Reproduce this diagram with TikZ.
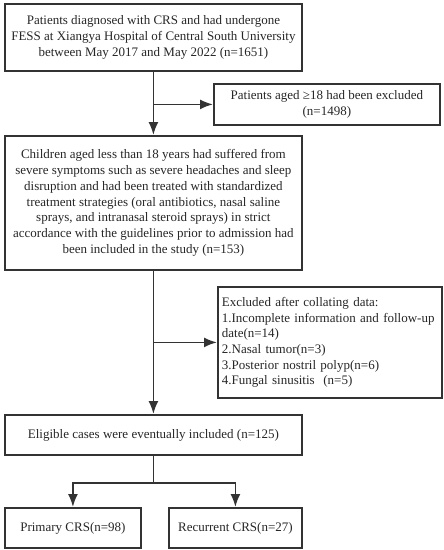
\documentclass[tikz,border=0pt]{standalone}
\usepackage{fontspec}
\setmainfont{Liberation Serif}
\usetikzlibrary{calc,arrows.meta}
\colorlet{frame}{black!80}
\tikzstyle{box}=[draw=frame,line width=1.8pt,anchor=north west,inner sep=0pt,align=center,text=black!85,font=\fontsize{13}{15.7}\selectfont]
\tikzstyle{link}=[-{Latex[length=13pt,width=10pt]},line width=1.8pt,frame]

\begin{document}
\begin{tikzpicture}[x=1pt,y=-1pt]
  \useasboundingbox (0,0) rectangle (444,550);

  % MAIN FLOW
  \node[box,minimum width=297pt,minimum height=67pt] (all) at (4,3)
    {Patients diagnosed with CRS and had undergone\\
     FESS at Xiangya Hospital of Central South University\\
     between May 2017 and May 2022 (n=1651)};
  \node[box,minimum width=297pt,minimum height=134pt] (kids) at (4,135)
    {Children aged less than 18 years had suffered from\\
     severe symptoms such as severe headaches and sleep\\
     disruption and had been treated with standardized\\
     treatment strategies (oral antibiotics, nasal saline\\
     sprays, and intranasal steroid sprays) in strict\\
     accordance with the guidelines prior to admission had\\
     been included in the study (n=153)};
  \node[box,minimum width=297pt,minimum height=40pt] (elig) at (4,414)
    {Eligible cases were eventually included (n=125)};

  % EXCLUSIONS
  \node[box,minimum width=226pt,minimum height=41pt] (old) at (213,83)
    {Patients aged ≥18 had been excluded\\(n=1498)};
  \node[box,minimum width=224pt,minimum height=111pt,align=left,text width=216pt,inner xsep=4pt] (drop) at (217,286)
    {Excluded after collating data:\\
     1.Incomplete information and follow-up\\
     date(n=14)\\
     2.Nasal tumor(n=3)\\
     3.Posterior nostril polyp(n=6)\\
     4.Fungal sinusitis~ (n=5)};

  % GROUPS
  \node[box,minimum width=136pt,minimum height=40pt] (prim) at (4,507) {Primary CRS(n=98)};
  \node[box,minimum width=133pt,minimum height=40pt] (rec) at (168,507) {Recurrent CRS(n=27)};

  % ARROWS
  \draw[link] (all.south) -- (kids.north);
  \draw[link] (all.south |- old.west) -- (old.west);
  \draw[link] (kids.south) -- (elig.north);
  \draw[link] (kids.south |- drop.west) -- (drop.west);
  \coordinate (split) at ($(elig.south)+(0,27)$);
  \draw[line width=1.8pt,frame] (elig.south) -- (split);
  \draw[link] (split) -| (prim.north);
  \draw[link] (split) -| (rec.north);
\end{tikzpicture}
\end{document}
